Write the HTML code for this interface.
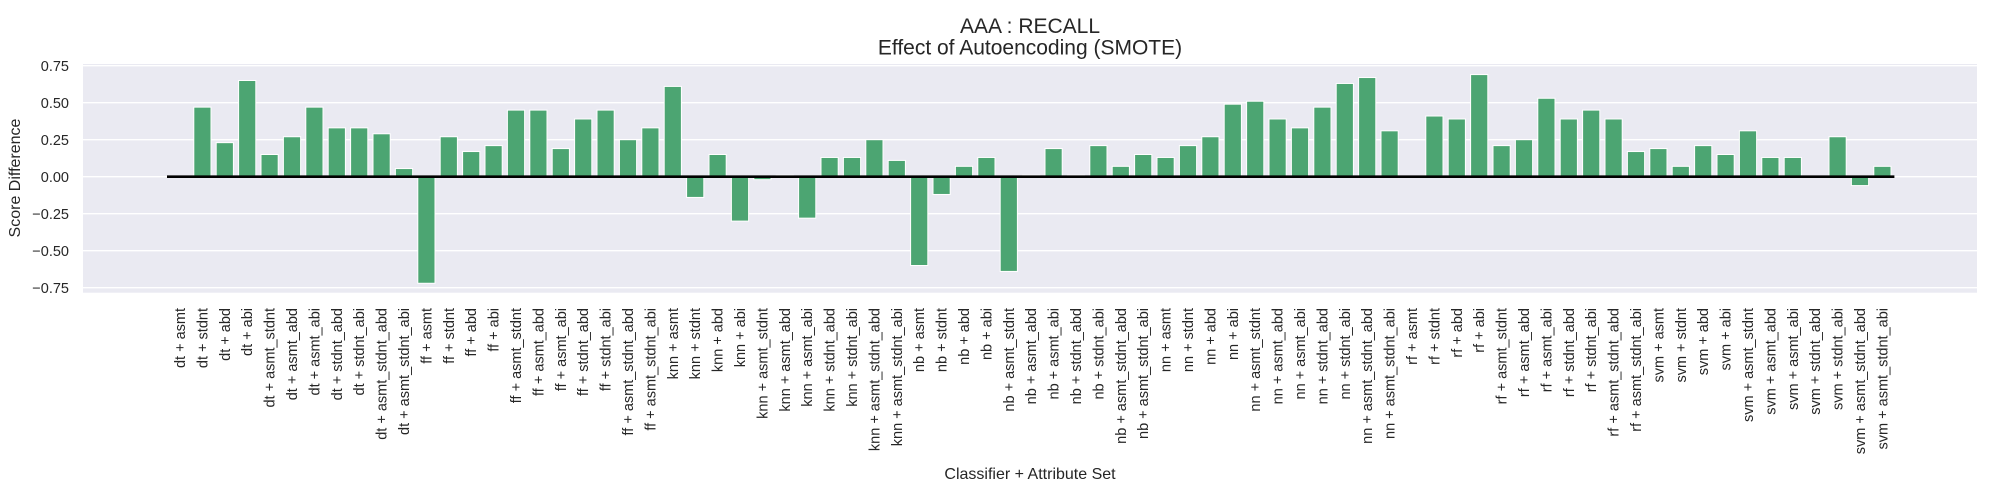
<!DOCTYPE html>
<html><head><meta charset="utf-8"><style>
html,body{margin:0;padding:0;background:#fff;}
svg{display:block;font-family:"Liberation Sans",Arial,sans-serif;}
</style></head><body>
<svg id="chart" width="2000" height="500" xmlns="http://www.w3.org/2000/svg"></svg>
<script>
const classifiers = ["dt","ff","knn","nb","nn","rf","svm"];
const attrSets = ["asmt","stdnt","abd","abi","asmt_stdnt","asmt_abd","asmt_abi","stdnt_abd","stdnt_abi","asmt_stdnt_abd","asmt_stdnt_abi"];
const categories = [];
classifiers.forEach(c => attrSets.forEach(a => categories.push(c + " + " + a)));
const dtVals  = [0, 0.47, 0.23, 0.65, 0.15, 0.27, 0.47, 0.33, 0.33, 0.29, 0.055];
const ffVals  = [-0.72, 0.27, 0.17, 0.21, 0.45, 0.45, 0.19, 0.39, 0.45, 0.25, 0.33];
const knnVals = [0.61, -0.14, 0.15, -0.30, -0.02, 0.01, -0.28, 0.13, 0.13, 0.25, 0.11];
const nbVals  = [-0.60, -0.12, 0.07, 0.13, -0.64, 0.01, 0.19, 0.01, 0.21, 0.07, 0.15];
const nnVals  = [0.13, 0.21, 0.27, 0.49, 0.51, 0.39, 0.33, 0.47, 0.63, 0.67, 0.31];
const rfVals  = [0, 0.41, 0.39, 0.69, 0.21, 0.25, 0.53, 0.39, 0.45, 0.39, 0.17];
const svmVals = [0.19, 0.07, 0.21, 0.15, 0.31, 0.13, 0.13, 0, 0.27, -0.06, 0.07];
const yTicks = [0.75, 0.5, 0.25, 0, -0.25, -0.5, -0.75];
const yTickLabels = ["0.75","0.50","0.25","0.00","\u22120.25","\u22120.50","\u22120.75"];

const values = [].concat(dtVals, ffVals, knnVals, nbVals, nnVals, rfVals, svmVals);
const NS = "http://www.w3.org/2000/svg";
const svg = document.getElementById("chart");
const L = 83, R = 1977, T = 64, B = 292.7;
const zeroY = 176.7, pxPerUnit = 148;
const y = v => zeroY - v * pxPerUnit;
const x0 = 180, step = 22.4, bw = 17.2;
const x = i => x0 + i * step;

function mk(tag, attrs, parent) {
  const e = document.createElementNS(NS, tag);
  for (const k in attrs) e.setAttribute(k, attrs[k]);
  (parent || svg).appendChild(e);
  return e;
}

const bg = mk("rect", {x: L, y: T, width: R - L, height: B - T, fill: "#eaeaf2"});



const gridG = mk("g", {});


const tickG = mk("g", {});


yTicks.forEach((t, i) => {
  mk("line", {x1: L, x2: R, y1: y(t), y2: y(t), stroke: "#fff", "stroke-width": 1.3}, gridG);
  const tx = mk("text", {x: 69, y: y(t) + 5.2, "text-anchor": "end", "font-size": 14.5, fill: "#262626"}, tickG);
  tx.textContent = yTickLabels[i];
  
  
});

const barsG = mk("g", {});


values.forEach((v, i) => {
  const top = Math.min(y(v), y(0)), h = Math.abs(y(v) - y(0));
  const r = mk("rect", {x: x(i) - bw / 2, y: top, width: bw, height: h, fill: "#4ca572", stroke: "#fff", "stroke-width": 1}, barsG);
  
  
});

const zl = mk("line", {x1: x(0) - 13, x2: x(values.length - 1) + 12, y1: y(0), y2: y(0), stroke: "#000", "stroke-width": 2.6});



const xlG = mk("g", {});


categories.forEach((c, i) => {
  const tx = mk("text", {x: 0, y: 0, "text-anchor": "end", "font-size": 14.5, fill: "#262626",
    transform: "translate(" + (x(i) + 5) + ",308) rotate(-90)"}, xlG);
  tx.textContent = c;
  
  
});

const t1 = mk("text", {x: 1030, y: 33, "text-anchor": "middle", "font-size": 21, fill: "#262626"});
t1.textContent = "AAA : RECALL";


const t2 = mk("text", {x: 1030, y: 54.5, "text-anchor": "middle", "font-size": 21, fill: "#262626"});
t2.textContent = "Effect of Autoencoding (SMOTE)";



const yl = mk("text", {x: 0, y: 0, "text-anchor": "middle", "font-size": 16, fill: "#262626", transform: "translate(20,178) rotate(-90)"});
yl.textContent = "Score Difference";



const xl = mk("text", {x: 1030, y: 479, "text-anchor": "middle", "font-size": 16, fill: "#262626"});
xl.textContent = "Classifier + Attribute Set";


</script>
</body></html>
